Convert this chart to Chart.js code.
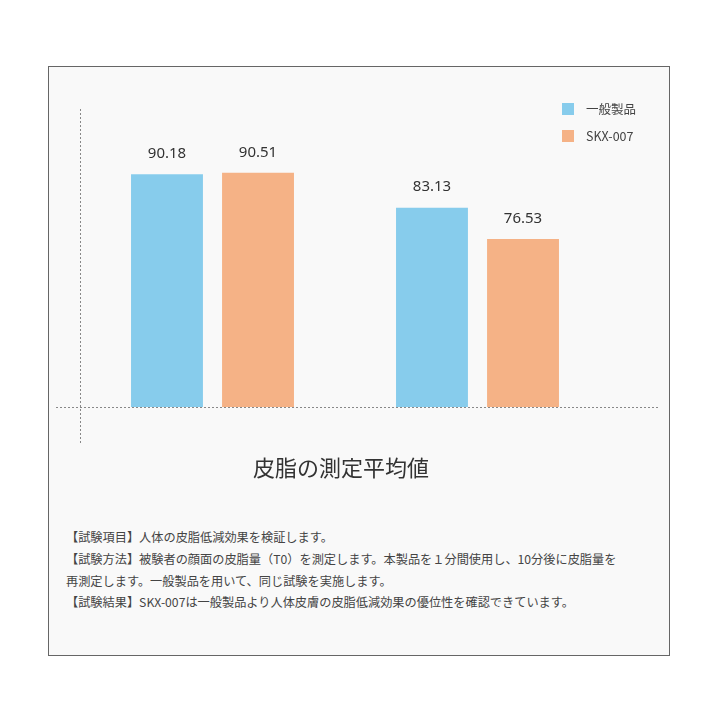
<!DOCTYPE html>
<html><head><meta charset="utf-8">
<script src="https://cdn.jsdelivr.net/npm/chart.js@4"></script>
<style>
  body{margin:0;background:#fff;font-family:"Noto Sans CJK JP","Noto Sans",sans-serif;}
  #frame{position:absolute;left:48px;top:66px;width:620px;height:588px;border:1px solid #666;background:#f9f9f9;}
  #wrap{position:absolute;left:0;top:0;width:620px;height:390px;}
  .leg{position:absolute;left:513px;font-size:12.5px;color:#444;}
  .leg i{display:inline-block;width:12px;height:12px;margin-right:12px;vertical-align:-1px;}
  #title{position:absolute;left:0;width:584px;top:383px;text-align:center;font-size:22px;color:#333;}
  #notes{position:absolute;left:17px;top:460px;font-size:12.2px;line-height:21.8px;color:#444;}
</style></head><body>
<div id="frame">
  <div id="wrap"><canvas id="c" width="620" height="390"></canvas></div>
  <div class="leg" style="top:32px"><i style="background:#87ccec"></i>一般製品</div>
  <div class="leg" style="top:59px"><i style="background:#f5b286"></i>SKX-007</div>
  <div id="title">皮脂の測定平均値</div>
  <div id="notes">【試験項目】人体の皮脂低減効果を検証します。<br>【試験方法】被験者の顔面の皮脂量（T0）を測定します。本製品を１分間使用し、10分後に皮脂量を<br>再測定します。一般製品を用いて、同じ試験を実施します。<br>【試験結果】SKX-007は一般製品より人体皮膚の皮脂低減効果の優位性を確認できています。</div>
</div>
<script>
const categories = ['A', 'B'];
const seriesNames = ['一般製品', 'SKX-007'];
const generalValues = [90.18, 83.13];
const skxValues = [90.51, 76.53];

const extras = {
  id: 'extras',
  afterDraw(chart) {
    const ctx = chart.ctx, a = chart.chartArea;
    ctx.save();
    ctx.strokeStyle = '#888'; ctx.lineWidth = 1; ctx.setLineDash([2, 2]);
    ctx.beginPath();
    ctx.moveTo(a.left + 0.5, a.top); ctx.lineTo(a.left + 0.5, a.bottom + 38);
    ctx.moveTo(7, a.bottom + 0.5); ctx.lineTo(609, a.bottom + 0.5);
    ctx.stroke();
    ctx.setLineDash([]);
    ctx.fillStyle = '#333'; ctx.font = '15px "Noto Sans", sans-serif';
    ctx.textAlign = 'center'; ctx.textBaseline = 'bottom';
    chart.data.datasets.forEach((ds, i) => {
      chart.getDatasetMeta(i).data.forEach((bar, j) => {
        ctx.fillText(ds.data[j].toFixed(2), bar.x, bar.y - 13);
      });
    });
    ctx.restore();
  }
};

new Chart(document.getElementById('c'), {
  type: 'bar',
  data: {
    labels: categories,
    datasets: [
      { label: seriesNames[0], data: generalValues, backgroundColor: '#87ccec', categoryPercentage: 0.687, barPercentage: 0.79 },
      { label: seriesNames[1], data: skxValues, backgroundColor: '#f5b286', categoryPercentage: 0.687, barPercentage: 0.79 }
    ]
  },
  options: {
    responsive: false, animation: false, devicePixelRatio: 1,
    layout: { padding: { left: 31, right: 59, top: 42, bottom: 50 } },
    plugins: { legend: { display: false }, tooltip: { enabled: false } },
    scales: { x: { display: false }, y: { display: false, min: 41, max: 104 } }
  },
  plugins: [extras]
});
</script>
</body></html>
